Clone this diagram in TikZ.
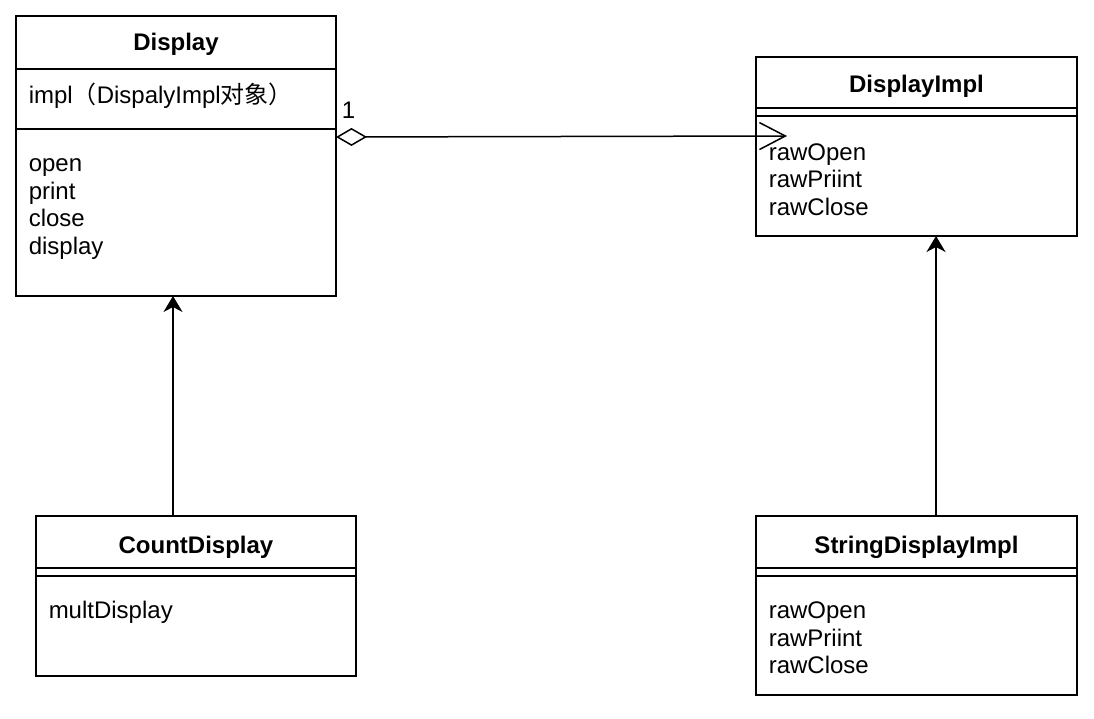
\documentclass[tikz,border=0pt]{standalone}
\usepackage{fontspec}
\setmainfont{Liberation Sans}
\newfontfamily\cjk{Noto Sans CJK SC}
\usetikzlibrary{arrows.meta}
\begin{document}
\begin{tikzpicture}[x=1pt,y=-1pt,
  line width=1.5pt,
  box/.style={draw, rectangle, inner sep=0pt, outer sep=0pt, anchor=north west},
  sep/.style={line width=1.5pt},
  title/.style={font=\fontsize{24}{28}\selectfont\bfseries, anchor=base, inner sep=0pt},
  item/.style={font=\fontsize{24}{28}\selectfont, anchor=base west, inner sep=0pt},
  inh/.style={-{Stealth[length=16pt,width=19pt,inset=5pt]}, line width=1.5pt},
  agg/.style={{Diamond[open,length=31pt,width=18pt]}-{Straight Barb[length=26pt,width=27pt]}, line width=1.5pt}
]
\useasboundingbox (0,0) rectangle (1094,719);

% Display
\node[box, minimum width=320pt, minimum height=280pt] (display) at (16,16) {};
\draw[sep] (16,69) -- (336,69);
\draw[sep] (16,129) -- (336,129);
\node[title] (t1) at (176,51) {Display};
\node[item] (a1) at (28,104) {impl{\cjk （}DispalyImpl{\cjk 对象）}};
\node[item] (m11) at (28,172) {open};
\node[item] (m12) at (28,199.5) {print};
\node[item] (m13) at (28,227) {close};
\node[item] (m14) at (28,254.5) {display};

% DisplayImpl
\node[box, minimum width=321pt, minimum height=179pt] (impl) at (756,57) {};
\draw[sep] (756,108) -- (1077,108);
\draw[sep] (756,116) -- (1077,116);
\node[title] (t2) at (916.5,92.5) {DisplayImpl};
\node[item] (m21) at (768,160.5) {rawOpen};
\node[item] (m22) at (768,188) {rawPriint};
\node[item] (m23) at (768,215.5) {rawClose};

% CountDisplay
\node[box, minimum width=320pt, minimum height=160pt] (count) at (36,516) {};
\draw[sep] (36,568) -- (356,568);
\draw[sep] (36,576) -- (356,576);
\node[title] (t3) at (196,553) {CountDisplay};
\node[item] (m31) at (48,618.5) {multDisplay};

% StringDisplayImpl
\node[box, minimum width=321pt, minimum height=179pt] (sdi) at (756,516) {};
\draw[sep] (756,568) -- (1077,568);
\draw[sep] (756,576) -- (1077,576);
\node[title] (t4) at (916.5,553) {StringDisplayImpl};
\node[item] (m41) at (768,618.5) {rawOpen};
\node[item] (m42) at (768,646) {rawPriint};
\node[item] (m43) at (768,673.5) {rawClose};

% connectors
\draw[inh] ([xshift=-23pt]count.north) -- ([xshift=-3pt]display.south);
\draw[inh] ([xshift=19.5pt]sdi.north) -- ([xshift=19.5pt]impl.south);
\draw[agg] ([yshift=19pt]display.east) -- ([xshift=31pt,yshift=10.5pt]impl.west);
\node[item, anchor=base west] (mult) at (341,119) {1};
\end{tikzpicture}
\end{document}
